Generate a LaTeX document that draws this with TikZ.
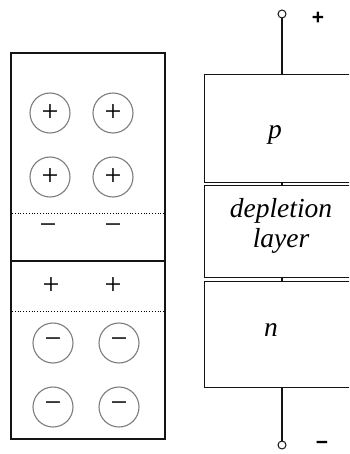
\documentclass[tikz,border=0pt]{standalone}
\usepackage{fontspec}
\setmainfont{Liberation Serif}
\newfontfamily\polarityfont{Liberation Sans}
\usepackage{xcolor}
\usepackage{tikz}
\usetikzlibrary{positioning}
\definecolor{ionGray}{RGB}{125, 125, 125}
\definecolor{lineBlack}{RGB}{20, 20, 20}

\begin{document}
\begin{tikzpicture}[
    x=1pt, y=-1pt,
    font=\fontsize{28}{31}\selectfont,
    crystalBox/.style={draw=lineBlack, line width=1.4pt, minimum width=154pt, minimum height=386pt, inner sep=0pt},
    layerBox/.style={draw=lineBlack, line width=1.2pt, minimum width=170pt, inner sep=0pt, anchor=north west},
    layerText/.style={font=\fontsize{27.5}{30}\selectfont\itshape, align=center, inner sep=0pt},
    ionCircle/.style={circle, draw=ionGray, line width=1.1pt, minimum size=40pt, inner sep=0pt, font=\fontsize{30}{30}\selectfont},
    chargeSign/.style={inner sep=0pt, font=\fontsize{30}{30}\selectfont},
    junctionLine/.style={dotted, line width=0.8pt},
    wire/.style={draw=lineBlack, line width=1.2pt},
    terminal/.style={circle, draw=lineBlack, line width=1pt, fill=white, minimum size=8pt, inner sep=0pt},
    polarity/.style={font=\polarityfont\bfseries\fontsize{21}{21}\selectfont, inner sep=0pt}
]
    \useasboundingbox (0,0) rectangle (349,454);
    \clip (0,0) rectangle (349,454);

    % Left: crystal with charges
    \node[crystalBox] (crystal) at (88,246) {};
    \draw[junctionLine] (12,213) -- (164,213);
    \draw[draw=lineBlack, line width=1.2pt] (11,261) -- (165,261);
    \draw[junctionLine] (12,311) -- (164,311);

    \node[ionCircle] (holeA) at (50,113) {+};
    \node[ionCircle] (holeB) at (113,113) {+};
    \node[ionCircle] (holeC) at (50,177) {+};
    \node[ionCircle] (holeD) at (113,177) {+};

    \node[chargeSign] (negA) at (48,229) {−};
    \node[chargeSign] (negB) at (113,229) {−};
    \node[chargeSign] (posA) at (51,286) {+};
    \node[chargeSign] (posB) at (113,286) {+};

    \node[ionCircle] (elecA) at (53,343) {−};
    \node[ionCircle] (elecB) at (119,343) {−};
    \node[ionCircle] (elecC) at (53,407) {−};
    \node[ionCircle] (elecD) at (119,407) {−};

    % Right: p / depletion / n layers
    \node[layerBox, minimum height=108pt] (pLayer) at (204,74) {};
    \node[layerBox, minimum height=92pt] (deplLayer) at (204,185) {};
    \node[layerBox, minimum height=106pt] (nLayer) at (204,281) {};

    \node[layerText] (pText) at (275,135) {p};
    \node[layerText] (deplText) at (281,226) {depletion\\layer};
    \node[layerText] (nText) at (271,330) {n};

    % Terminals
    \node[terminal] (topTerm) at (282,14) {};
    \node[terminal] (botTerm) at (282,445) {};
    \node[polarity] (plusSign) at (318,18) {+};
    \node[polarity] (minusSign) at (322,445) {−};

    % Wires
    \draw[wire] (topTerm) -- (topTerm |- pLayer.north);
    \draw[wire] (topTerm |- pLayer.south) -- (topTerm |- deplLayer.north);
    \draw[wire] (topTerm |- deplLayer.south) -- (topTerm |- nLayer.north);
    \draw[wire] (botTerm |- nLayer.south) -- (botTerm);

\end{tikzpicture}
\end{document}
